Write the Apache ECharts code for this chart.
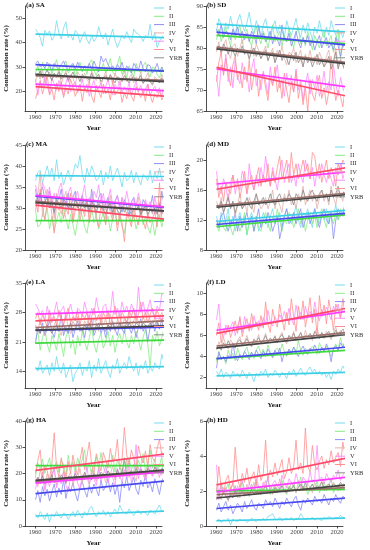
<!DOCTYPE html>
<html><head><meta charset="utf-8">
<script src="https://cdn.jsdelivr.net/npm/echarts@6/dist/echarts.min.js"></script>
<style>html,body{margin:0;padding:0;background:#fff}#c{width:370px;height:550px}</style>
</head><body><div id="c"></div><script>
// ---------- data ----------
const firstYear = 1961, lastYear = 2017;
const years = [];
for (let y = firstYear; y <= lastYear; y++) years.push(y);
const seriesNames = ['I','II','III','IV','V','VI','YRB'];
const xTicks = [1960,1970,1980,1990,2000,2010,2020];

// (a) SA
const saI=[45.5,44.2,42.1,38.5,45.0,43.2,44.8,41.0,42.5,49.0,44.0,41.5,46.0,48.5,42.0,43.5,41.0,45.0,43.8,40.0,42.5,44.5,41.2,39.5,43.0,40.5,42.0,46.5,43.0,41.5,44.0,39.0,42.5,45.5,41.0,38.0,40.5,43.0,41.5,44.5,42.0,40.0,45.5,44.0,43.5,42.5,40.5,43.0,42.0,47.5,41.0,44.0,38.0,40.5,42.0,43.5,41.5];
const saII=[27.5,30.5,26.0,32.0,29.5,28.0,31.5,27.0,30.0,33.0,28.5,26.5,30.5,32.5,27.5,29.0,31.0,26.0,29.5,32.0,28.0,30.5,27.0,31.5,33.0,28.5,26.5,30.0,29.0,31.5,27.5,30.0,33.5,28.0,26.5,31.0,34.5,27.0,29.5,25.5,30.5,28.0,26.0,31.5,29.0,27.5,30.5,32.0,28.0,26.0,30.0,29.5,27.0,25.5,29.0,31.0,30.0];
const saIII=[31.5,32.5,30.0,31.0,29.5,32.0,30.5,28.5,31.5,30.0,29.0,31.0,32.5,30.0,28.5,30.5,31.5,29.0,32.0,30.0,28.5,30.5,29.5,31.5,29.0,32.5,30.0,28.0,34.5,32.0,33.5,31.0,29.5,30.5,28.5,31.0,29.5,32.0,28.0,30.5,29.0,27.5,31.5,30.0,28.5,32.5,29.5,28.0,31.0,30.5,27.5,29.0,31.5,28.0,30.0,27.0,28.5];
const saIV=[24.0,27.5,25.0,29.0,23.5,26.5,28.0,24.5,27.0,25.5,29.5,23.0,26.0,28.5,24.0,27.0,25.5,22.5,28.0,26.5,24.0,27.5,25.0,23.5,28.5,26.0,24.5,27.0,22.5,25.5,28.0,24.0,26.5,23.0,27.5,25.0,22.5,26.0,28.5,24.0,25.5,27.0,23.5,26.0,24.5,28.0,23.0,25.5,27.5,24.0,22.5,26.0,25.0,23.5,27.0,24.0,25.0];
const saV=[25.0,18.5,24.0,21.5,26.0,22.5,19.0,25.5,23.0,20.5,24.5,21.0,18.5,23.5,26.5,20.0,22.5,24.0,19.5,21.5,25.0,20.5,23.0,18.0,22.0,24.5,20.0,21.5,23.5,19.0,22.0,25.0,20.5,18.5,23.0,21.0,24.5,19.5,22.0,20.0,23.5,18.5,21.5,24.0,20.0,22.5,19.0,21.0,23.0,18.5,20.5,22.0,19.5,21.5,18.0,22.5,20.5];
const saVI=[17.0,20.5,24.5,19.0,22.5,26.5,18.5,21.0,16.5,23.5,20.0,24.0,17.5,21.5,19.0,25.0,22.0,18.0,20.5,23.0,16.0,21.5,19.5,24.0,18.0,15.5,22.5,20.0,17.5,23.0,19.0,21.0,16.5,24.5,18.5,20.0,22.0,15.5,19.5,17.0,21.5,18.0,16.0,22.0,19.5,17.5,20.5,16.0,23.0,18.5,15.5,19.0,17.5,20.5,16.5,18.5,17.0];
const saYRB=[27.5,26.0,28.5,25.5,27.0,29.0,26.5,24.5,27.5,26.0,28.0,25.0,26.5,27.5,24.5,26.0,28.0,25.5,26.5,24.0,27.0,25.5,26.0,24.5,27.5,25.0,26.0,27.0,24.0,25.5,26.5,24.5,27.0,25.0,23.5,26.0,25.5,24.0,26.5,25.0,23.5,25.5,26.0,24.0,25.0,26.5,23.5,24.5,25.5,24.0,23.0,25.0,24.5,23.5,25.5,24.0,24.5];
const saTrend=[[43.5,42.0],[29.0,28.5],[31.0,28.3],[26.5,24.5],[23.0,20.3],[22.0,18.0],[27.0,24.0]];
const saTicks=[20,30,40,50];

// (b) SD
const sdI=[84.0,87.0,85.5,83.5,86.0,84.5,87.5,85.0,83.0,86.5,88.0,85.5,84.0,86.0,88.5,85.0,83.5,86.5,84.5,82.5,85.5,87.0,84.0,82.0,85.0,86.5,83.5,85.5,84.0,82.5,86.5,84.5,83.0,85.0,87.0,84.0,82.5,85.5,83.5,86.0,84.0,82.0,85.0,83.5,86.5,84.0,82.5,85.0,83.0,86.5,84.5,83.0,81.5,84.0,82.5,84.5,83.0];
const sdII=[82.0,84.5,81.5,83.5,85.0,82.5,80.5,84.0,82.0,83.5,85.5,81.0,83.0,84.5,82.0,80.5,83.5,85.0,82.5,81.0,84.0,82.5,80.0,83.0,85.5,81.5,82.5,84.0,80.5,83.0,81.5,84.5,82.0,80.0,83.5,85.0,81.0,82.5,80.5,84.0,82.0,79.5,83.0,81.5,80.0,82.5,84.0,80.5,81.5,83.0,79.0,82.0,84.5,77.5,81.0,80.0,82.5];
const sdIII=[84.5,83.0,85.5,82.5,84.0,83.5,82.0,84.5,83.0,85.0,82.5,84.0,82.0,83.5,81.5,84.0,83.0,81.0,85.5,82.5,83.5,81.5,82.5,84.0,81.0,83.0,82.0,80.5,85.5,82.0,81.5,83.5,80.5,82.0,84.0,81.5,80.0,82.5,81.0,83.0,80.5,82.0,79.5,81.5,83.0,80.0,81.5,82.5,80.0,81.0,79.5,82.5,80.5,78.0,81.0,79.5,80.5];
const sdIV=[79.0,81.5,78.5,80.5,82.0,79.0,77.5,80.5,81.0,78.0,80.0,82.0,78.5,79.5,77.0,80.5,78.0,81.0,79.5,77.5,79.0,80.5,77.0,78.5,80.0,76.5,79.5,78.0,80.5,77.5,76.0,79.0,78.5,80.0,76.5,78.0,79.5,75.5,78.5,77.0,79.5,76.5,78.0,76.0,79.0,77.5,75.5,78.0,79.5,76.0,77.0,80.0,75.5,77.5,76.0,74.5,76.5];
const sdV=[73.5,68.5,76.0,74.0,78.5,72.0,75.5,70.5,77.0,73.0,71.5,76.5,72.5,74.0,69.5,75.0,77.5,71.0,73.5,70.0,74.5,72.0,69.0,75.5,71.5,73.0,76.0,70.5,72.5,68.5,74.0,71.0,73.5,69.5,75.0,70.0,72.5,67.5,71.5,74.0,69.0,72.5,70.5,73.5,68.5,71.0,74.5,69.5,72.0,70.0,76.0,71.5,68.5,73.0,70.5,69.0,71.5];
const sdVI=[72.0,76.5,79.0,73.5,77.5,74.0,71.0,76.0,78.0,72.5,74.5,70.5,75.5,72.0,77.0,70.0,73.5,75.0,68.5,72.5,74.0,70.5,67.5,73.0,71.0,75.5,69.5,72.5,68.0,74.0,70.0,67.0,72.0,69.5,74.5,68.0,71.5,66.5,70.5,65.0,72.5,69.0,67.5,71.0,73.5,68.0,70.5,66.5,69.5,78.0,71.5,67.5,70.0,68.5,66.0,70.5,67.5];
const sdYRB=[79.5,80.5,79.0,81.0,80.0,78.5,80.5,79.5,78.0,80.0,79.0,80.5,78.5,79.5,77.5,79.0,80.0,78.0,79.0,77.5,78.5,79.5,77.0,78.5,79.0,76.5,78.0,79.5,77.0,78.5,77.5,76.0,78.5,77.0,79.0,76.5,77.5,75.5,78.0,76.5,77.5,75.5,77.0,78.5,76.0,77.0,75.5,76.5,78.0,75.0,76.5,79.0,75.0,77.0,76.0,74.5,76.0];
const sdTrend=[[85.7,83.8],[83.0,81.0],[83.8,80.7],[80.2,76.5],[75.0,70.7],[75.4,68.5],[79.8,76.2]];
const sdTicks=[65,70,75,80,85,90];

// (c) MA
const maI=[36.5,38.5,39.0,36.0,38.0,40.0,37.5,39.5,36.5,41.5,37.0,38.5,35.5,37.5,39.0,36.5,38.0,40.5,39.5,42.5,38.0,36.0,39.5,37.5,40.0,38.5,36.5,37.0,39.0,35.5,38.5,37.0,40.0,36.5,38.0,39.5,37.5,35.0,38.5,36.5,37.0,39.0,36.0,38.5,37.0,35.5,38.0,37.5,36.5,39.0,36.0,38.5,37.0,39.5,36.5,37.5,38.5];
const maII=[29.5,25.5,26.0,28.5,27.5,30.0,25.0,28.0,24.5,27.0,29.0,26.5,30.5,27.5,25.0,28.5,26.0,23.5,27.0,29.5,28.0,25.5,24.0,27.5,30.0,26.5,28.5,25.0,27.0,29.0,26.5,28.0,24.5,27.5,29.5,26.0,28.0,25.5,24.0,27.5,29.0,26.5,28.5,25.0,27.0,29.5,26.0,28.0,25.5,24.0,27.0,23.5,26.5,28.5,25.5,27.5,26.0];
const maIII=[34.5,31.0,33.5,35.0,32.0,30.5,34.0,31.5,28.5,33.0,32.0,34.5,30.5,31.5,33.5,29.5,32.5,34.0,30.0,31.5,33.0,30.5,32.0,29.0,34.5,31.0,30.0,32.5,33.5,29.5,31.0,32.5,30.0,28.5,31.5,33.0,30.5,29.0,32.0,30.5,28.0,31.5,32.5,29.5,30.5,28.5,32.0,31.0,29.5,30.0,33.0,28.5,30.5,29.0,34.0,30.5,31.0];
const maIV=[29.5,33.0,38.5,28.0,31.5,34.5,30.0,32.5,27.5,33.5,30.5,28.5,32.0,34.0,29.5,31.0,27.0,33.0,30.5,28.5,32.5,29.0,31.5,27.5,33.5,30.0,28.5,32.0,29.5,31.5,27.5,30.5,33.0,28.0,31.0,29.5,27.0,32.5,30.0,28.5,31.0,29.5,27.5,30.5,32.5,28.0,29.5,31.5,27.5,30.0,28.5,31.0,29.0,27.5,30.5,29.0,28.5];
const maV=[35.5,33.0,31.5,36.0,34.5,32.0,35.0,30.5,33.5,31.0,34.5,36.0,32.5,30.0,33.5,35.0,31.5,32.5,34.0,30.5,33.0,35.5,31.0,32.5,30.0,34.0,32.5,35.5,31.0,33.5,29.5,32.0,34.5,30.5,31.5,33.0,29.5,32.5,30.5,34.0,31.0,29.0,32.5,30.5,33.5,31.0,29.5,32.0,30.0,31.5,29.0,32.5,30.0,31.5,28.5,30.5,31.0];
const maVI=[32.0,29.0,34.5,30.5,27.0,31.5,33.0,28.5,24.0,31.0,29.5,32.5,27.5,30.0,28.5,33.5,26.5,29.5,31.5,27.0,30.0,28.0,32.0,26.5,29.5,31.0,27.5,25.5,30.5,28.5,26.0,31.0,29.0,27.0,30.0,24.5,28.5,26.5,22.0,29.0,27.5,25.5,30.0,28.0,26.0,29.5,27.0,25.0,28.5,26.5,27.5,29.0,25.5,36.0,27.5,26.0,27.0];
const maYRB=[31.0,32.5,33.5,30.5,31.5,32.5,30.0,31.5,29.0,32.0,31.0,30.0,32.0,31.5,30.0,31.0,29.5,32.0,30.5,29.5,31.5,30.0,31.0,29.0,31.5,30.5,29.0,31.0,30.5,29.5,28.5,30.5,31.0,29.0,30.5,29.5,28.5,30.5,29.0,30.0,29.5,28.5,30.0,29.5,30.5,28.5,29.5,30.5,28.5,29.5,29.0,30.0,28.5,31.0,29.0,28.5,29.5];
const maTrend=[[37.7,37.5],[27.0,27.0],[32.8,30.1],[31.6,29.2],[33.0,30.2],[30.7,27.3],[31.3,29.3]];
const maTicks=[20,25,30,35,40,45];

// (d) MD
const mdI=[12.5,11.0,13.0,11.5,12.0,13.5,11.0,12.5,10.5,12.0,13.0,11.5,12.5,10.0,12.0,13.0,11.5,12.5,10.5,11.5,13.0,12.0,11.0,12.5,13.5,11.5,12.0,13.0,11.0,12.5,13.5,12.0,11.5,12.5,14.0,12.0,11.0,13.0,12.5,13.5,12.0,11.0,13.5,12.5,11.5,13.0,12.0,13.5,11.5,13.0,12.5,14.0,12.0,13.0,12.5,14.5,13.0];
const mdII=[11.5,10.5,12.0,11.0,10.5,12.5,11.0,10.0,11.5,12.0,10.5,11.5,13.0,10.0,11.5,12.0,10.5,12.5,11.0,10.5,12.0,13.0,11.5,10.5,12.5,11.5,13.5,12.0,10.5,12.0,11.5,13.0,12.5,11.0,12.0,13.5,11.5,12.5,10.5,12.0,13.0,11.5,12.5,11.0,12.5,13.5,12.0,11.0,13.0,12.5,11.5,13.0,12.0,13.5,12.5,14.0,12.5];
const mdIII=[12.0,11.0,12.5,13.0,11.5,10.5,12.0,11.5,13.0,10.5,12.5,11.0,12.0,13.0,11.5,12.5,10.5,12.0,13.5,11.0,12.0,11.5,13.0,12.0,10.5,11.5,12.5,9.5,11.0,12.5,13.5,11.5,12.0,13.0,11.5,12.5,13.5,11.0,12.0,13.0,11.5,12.5,13.5,12.0,11.0,12.5,13.5,12.0,11.5,13.0,9.5,12.0,13.5,12.5,13.0,14.0,13.0];
const mdIV=[14.5,13.5,15.0,13.0,14.0,15.5,13.5,14.5,12.5,14.0,15.5,13.5,14.5,13.0,15.0,14.0,13.0,15.5,14.5,13.5,14.0,15.0,13.5,14.5,16.0,13.5,15.0,14.0,13.0,15.5,14.5,16.0,14.0,15.0,13.5,15.5,14.5,16.5,14.0,15.0,16.0,14.5,15.5,13.5,15.0,16.0,14.5,15.5,14.0,16.5,15.0,14.0,16.0,15.5,14.5,16.5,15.5];
const mdV=[18.5,16.0,15.5,17.5,16.5,14.5,17.0,18.0,15.5,17.0,16.0,18.5,17.5,15.5,19.5,17.0,16.0,18.0,16.5,19.0,17.5,20.5,18.0,16.5,19.0,17.5,16.0,18.5,20.0,17.0,18.5,19.5,17.0,18.0,16.5,19.5,18.0,17.0,20.0,18.5,17.5,19.0,16.5,18.5,17.5,19.5,18.0,17.0,18.5,17.5,16.5,19.0,18.0,19.5,17.5,18.5,18.0];
const mdVI=[17.5,15.0,16.5,14.5,17.0,16.0,15.5,18.0,16.5,17.5,15.0,16.5,18.5,15.5,17.0,18.0,16.0,17.5,19.0,16.5,18.0,17.0,19.5,16.5,18.5,17.0,19.0,20.5,17.5,18.5,20.0,17.0,21.0,18.0,19.5,17.5,18.5,20.0,18.5,19.5,17.5,21.0,20.5,18.0,19.5,17.0,18.5,20.0,17.5,19.0,18.0,16.5,19.5,18.5,20.0,19.5,18.5];
const mdYRB=[14.0,13.5,14.5,13.0,14.0,15.0,13.5,14.5,13.0,14.0,14.5,13.5,14.0,15.0,14.0,13.5,14.5,15.5,14.0,14.5,15.0,14.0,14.5,15.5,14.5,14.0,15.0,15.5,14.5,15.0,14.5,15.5,15.0,14.0,15.5,15.0,14.5,16.0,15.0,14.5,15.5,16.0,15.0,14.5,15.5,16.0,15.0,15.5,14.5,16.0,15.0,15.5,16.5,15.0,15.5,16.0,15.5];
const mdTrend=[[11.8,13.3],[11.1,12.7],[11.4,12.9],[13.9,15.6],[16.8,18.4],[16.1,19.0],[13.7,15.4]];
const mdTicks=[8,12,16,20];

// (e) LA
const laI=[15.0,14.0,16.5,13.5,14.5,15.5,13.0,16.0,14.0,17.5,14.5,13.5,16.0,12.5,14.0,15.5,11.5,13.5,14.5,16.0,13.0,15.0,14.0,16.5,12.5,15.5,14.0,17.0,13.5,15.0,16.5,14.0,12.5,15.5,14.5,17.0,13.5,15.0,16.0,14.5,17.5,15.5,14.0,16.0,13.0,15.5,14.5,16.5,13.5,15.0,14.0,16.0,15.0,14.5,18.0,16.0,13.0];
const laII=[21.5,23.5,19.0,22.0,24.0,20.5,18.5,22.5,21.0,19.0,23.0,20.5,17.5,22.0,24.0,19.5,21.5,18.0,22.5,20.0,23.5,21.0,19.0,22.0,24.5,20.5,18.5,21.5,23.0,19.5,21.0,23.5,20.0,22.5,18.5,21.5,23.0,20.5,24.0,21.0,19.5,22.5,20.5,23.5,21.5,19.0,22.0,24.0,20.5,15.0,22.5,21.0,23.5,20.0,22.0,24.5,22.0];
const laIII=[20.5,24.5,23.0,25.5,22.5,24.0,26.0,23.5,22.0,25.0,23.5,27.5,22.5,24.5,23.0,25.5,22.0,24.0,26.0,23.5,24.5,22.0,25.0,23.5,26.5,22.5,24.0,25.5,23.0,24.5,22.0,25.0,23.5,26.0,24.0,22.5,25.5,24.0,23.0,26.0,24.5,23.0,25.0,22.0,24.5,26.5,23.5,25.0,21.0,24.5,26.0,23.5,25.5,24.0,26.5,24.0,25.0];
const laIV=[25.0,23.0,26.5,24.0,22.5,25.5,27.0,23.5,25.0,26.5,24.0,22.5,25.5,27.5,24.5,23.0,26.0,24.5,27.0,25.0,23.5,26.0,25.0,27.5,24.0,26.5,25.5,23.5,27.0,25.0,26.5,24.0,27.5,25.5,23.5,26.0,28.0,24.5,26.5,25.0,27.5,24.5,26.0,28.0,25.5,24.0,27.0,25.5,28.5,26.0,24.5,27.0,25.5,26.5,28.0,25.5,26.5];
const laV=[30.0,29.0,27.5,28.5,26.0,29.5,27.0,25.5,28.0,30.5,27.0,28.5,29.5,26.5,28.0,30.0,27.5,26.0,29.0,28.5,27.0,30.5,28.0,26.5,29.0,27.5,31.5,28.5,27.0,29.5,30.0,26.5,28.0,33.0,27.5,29.0,27.0,30.5,28.0,29.5,27.5,30.0,28.5,26.5,34.0,28.0,30.5,27.5,29.0,31.0,28.0,27.0,29.5,28.5,32.5,32.0,29.0];
const laVI=[26.5,28.0,25.0,27.5,26.0,24.5,28.5,26.0,27.0,25.0,28.5,26.5,25.0,27.5,29.0,25.5,27.0,26.0,28.5,25.0,27.5,26.5,28.0,24.5,27.0,29.0,26.0,27.5,25.5,28.0,26.5,28.5,25.0,27.0,29.5,26.5,25.0,28.0,27.0,25.5,28.5,27.0,29.0,26.0,27.5,30.5,26.5,28.0,25.5,27.5,29.0,26.5,28.5,27.0,25.5,28.0,27.5];
const laYRB=[24.0,24.5,23.0,24.5,23.5,25.0,24.0,23.0,24.5,25.0,23.5,24.5,25.0,23.5,24.0,25.5,23.5,24.0,25.0,24.5,23.5,25.0,24.0,25.5,24.0,23.5,25.0,24.5,25.5,24.0,23.5,25.0,24.5,25.5,24.0,24.5,25.5,24.0,25.0,24.5,25.5,24.5,24.0,25.5,25.0,24.0,25.5,25.0,24.5,25.5,24.5,25.0,26.0,24.5,25.0,25.5,24.5];
const laTrend=[[14.6,15.1],[20.7,21.4],[23.7,24.5],[24.4,26.0],[27.6,28.6],[26.0,27.2],[23.8,24.8]];
const laTicks=[14,21,28,35];

// (f) LD
const ldI=[2.6,2.2,2.8,2.0,2.5,2.3,1.9,2.6,2.2,2.4,2.0,2.7,2.3,1.9,2.5,2.2,1.6,2.4,2.1,2.6,2.3,2.8,2.0,2.4,2.2,2.7,2.4,2.0,2.5,2.3,1.9,2.6,2.3,2.8,2.1,2.5,2.9,2.4,2.2,2.7,3.0,2.5,2.8,2.3,2.6,2.2,2.5,2.0,2.4,1.8,2.6,2.3,2.8,2.5,3.1,2.7,2.3];
const ldII=[3.5,4.5,3.8,4.0,3.3,4.6,3.9,4.3,3.6,4.8,4.1,3.7,4.5,4.9,4.0,4.4,3.8,4.6,5.0,4.2,4.7,4.0,5.1,4.4,3.9,4.6,4.8,4.3,5.2,4.5,4.0,4.7,4.4,4.9,4.2,5.5,4.6,4.1,4.8,4.3,4.5,5.0,4.7,4.2,5.3,4.8,4.4,5.0,4.5,4.0,4.7,5.2,4.6,5.8,4.9,5.1,4.7];
const ldIII=[2.9,4.4,3.7,4.0,3.5,4.1,3.8,5.3,4.0,3.6,4.2,3.9,4.5,4.1,3.7,4.4,4.0,4.6,4.2,3.8,4.5,4.1,4.7,4.3,3.9,4.6,4.2,4.8,3.5,4.4,4.1,4.7,4.3,4.9,4.5,4.0,4.6,5.0,4.4,4.2,4.8,4.5,5.1,4.6,4.3,4.9,4.5,5.2,4.7,3.5,4.8,5.0,4.6,5.3,4.9,5.5,5.0];
const ldIV=[4.6,5.4,4.9,5.8,5.1,4.7,5.6,5.2,4.8,5.5,5.9,5.0,5.4,6.0,5.3,4.9,5.7,5.4,6.1,5.2,5.6,6.2,5.3,5.8,5.5,6.0,5.4,5.9,6.3,5.6,5.2,6.0,5.7,6.4,5.5,5.9,6.2,5.6,6.5,5.8,6.1,5.5,6.3,6.7,5.9,6.2,5.7,6.4,6.0,5.6,6.3,6.8,6.0,6.5,6.2,6.9,6.4];
const ldV=[7.5,9.0,6.2,5.8,7.0,6.4,6.8,7.3,6.0,6.9,7.6,6.3,7.8,6.7,7.2,6.5,7.9,6.9,7.4,6.8,7.7,7.1,8.4,7.3,6.9,7.8,7.2,8.0,7.5,8.3,7.4,8.6,7.6,7.0,8.9,7.7,8.2,7.5,8.8,7.9,8.3,7.6,9.2,8.0,7.4,8.5,7.9,8.7,8.1,7.5,8.8,8.2,9.0,7.8,8.5,10.0,8.6];
const ldVI=[6.0,7.2,5.3,6.6,6.1,7.0,5.8,6.5,7.4,6.2,7.8,5.9,6.9,7.6,6.4,8.1,6.8,7.3,6.5,7.9,6.7,9.2,7.1,6.3,8.5,7.4,6.8,9.0,7.6,6.5,8.2,7.0,9.5,7.8,6.4,8.8,7.5,9.3,6.8,8.0,9.6,7.2,8.5,6.0,9.8,7.8,8.9,7.1,9.4,8.2,6.5,9.0,8.4,7.6,9.5,8.7,8.0];
const ldYRB=[4.7,5.1,4.6,5.3,4.9,5.5,5.0,5.2,4.8,5.4,5.6,5.1,5.3,5.7,5.2,5.0,5.6,5.4,5.8,5.3,5.5,6.0,5.4,5.7,5.5,5.9,5.3,5.8,6.1,5.6,5.4,6.0,5.7,6.2,5.6,5.8,6.3,5.7,6.0,5.9,6.2,5.8,6.4,6.0,5.7,6.3,5.9,6.1,6.4,5.8,6.1,6.5,6.0,6.3,6.6,6.4,6.1];
const ldTrend=[[2.15,2.5],[3.8,4.6],[3.8,4.9],[5.0,6.3],[6.5,8.3],[6.2,8.6],[4.8,6.1]];
const ldTicks=[2,4,6,8,10];

// (g) HA
const haI=[4.5,3.0,5.5,4.0,2.5,5.0,1.5,4.5,3.5,5.5,4.0,3.0,5.0,4.5,2.5,4.0,5.5,3.5,6.0,4.5,3.0,5.5,4.0,6.5,7.5,5.0,3.5,5.5,4.5,6.0,4.0,5.5,3.5,5.0,6.5,4.5,8.0,6.0,5.0,4.5,6.5,5.0,4.0,5.5,6.0,4.5,5.5,5.0,4.0,6.0,5.5,4.5,6.5,8.0,5.5,6.0,5.0];
const haII=[19.0,24.0,21.5,25.5,20.0,23.0,26.0,19.5,22.5,24.5,20.5,25.0,23.5,19.0,27.0,22.0,24.5,20.5,26.0,22.5,25.5,29.0,21.0,24.0,19.5,23.5,26.5,21.5,28.0,22.5,20.0,24.5,22.0,27.0,20.5,25.0,23.0,19.0,24.5,22.0,26.0,21.5,23.5,20.0,25.0,22.5,27.5,21.0,24.0,29.0,22.0,25.5,20.5,23.0,26.5,16.0,23.0];
const haIII=[10.0,13.5,9.0,15.0,11.5,14.0,9.5,13.0,16.0,11.0,14.5,12.0,17.5,10.5,15.0,13.0,16.5,12.5,9.5,14.5,17.0,13.5,11.0,15.5,12.5,16.0,14.0,11.5,17.5,13.5,15.0,18.0,13.0,16.5,12.0,15.5,9.0,17.0,14.5,19.0,13.5,16.0,18.5,14.0,12.0,17.5,15.0,19.5,14.5,16.5,13.0,18.0,15.5,12.0,17.0,19.0,17.5];
const haIV=[19.0,15.0,21.5,17.5,14.0,20.0,16.5,18.5,22.0,15.5,19.5,17.0,21.0,16.0,18.5,20.5,15.5,19.0,17.5,22.0,16.5,20.0,18.5,15.5,21.5,19.0,17.0,22.5,18.0,20.0,16.5,21.0,19.5,23.0,17.5,20.5,18.0,22.0,19.0,25.5,18.5,21.5,20.0,17.0,22.5,19.5,21.0,18.0,23.0,20.5,19.0,22.5,20.0,21.5,19.5,23.0,21.0];
const haV=[14.0,18.5,16.0,20.5,13.5,17.5,15.0,19.5,22.0,14.5,18.0,16.0,20.5,15.5,13.0,19.0,17.0,21.0,16.5,14.0,19.5,17.5,22.5,16.0,20.0,18.0,15.5,21.5,17.0,19.5,23.0,16.5,20.0,18.5,15.5,22.0,19.0,17.0,21.5,18.5,24.0,16.5,20.5,31.0,18.0,22.5,19.5,17.5,21.0,23.5,19.0,20.5,22.5,18.5,21.5,19.5,20.0];
const haVI=[20.0,25.0,29.0,18.5,23.0,21.0,17.5,24.0,35.5,22.0,19.0,26.0,21.5,18.0,24.5,20.0,27.0,22.5,19.5,25.0,30.0,21.5,26.5,32.0,23.5,20.0,27.5,24.0,21.0,28.0,25.0,22.0,29.5,24.5,26.0,33.0,21.5,25.5,37.5,27.0,23.5,29.0,25.5,22.0,30.5,26.5,24.0,28.5,22.5,31.0,26.0,24.5,29.5,33.0,27.0,29.0,28.0];
const haYRB=[16.5,18.5,17.0,19.0,16.0,18.0,17.5,19.5,16.5,18.0,17.0,19.5,18.0,16.5,19.0,18.5,17.5,20.0,18.0,19.0,17.5,20.5,18.5,19.5,17.5,20.0,19.0,18.0,20.5,19.5,18.5,21.0,19.5,20.0,18.5,21.5,19.0,20.5,26.0,19.5,20.5,21.0,19.5,22.0,20.0,21.5,20.5,19.5,22.0,21.0,20.0,22.5,21.0,20.5,22.0,21.5,21.5];
const haTrend=[[3.8,5.7],[23.0,23.0],[12.3,17.2],[17.0,21.0],[16.3,20.7],[21.2,27.5],[17.4,21.4]];
const haTicks=[0,10,20,30,40];

// (h) HD
const hdI=[0.3,0.4,0.2,0.35,0.3,0.45,0.05,0.4,0.3,0.25,0.4,0.3,0.35,0.2,0.3,0.45,0.35,0.25,0.4,0.3,0.45,0.3,0.55,0.6,0.7,0.4,0.35,0.5,0.3,0.4,0.45,0.35,0.5,0.3,0.45,0.4,0.7,0.5,0.35,0.45,0.4,0.5,0.35,0.45,0.4,0.3,0.5,0.4,0.55,0.45,0.4,0.5,0.45,0.6,0.5,0.4,0.5];
const hdII=[2.2,1.8,2.5,1.9,2.1,2.4,1.7,2.0,2.3,1.6,2.2,2.5,1.9,2.1,1.7,2.4,2.0,2.6,1.8,2.2,1.9,2.3,2.7,1.8,2.1,2.4,1.9,2.2,2.6,2.0,1.8,2.3,2.1,2.5,1.9,2.2,2.8,2.0,2.3,1.8,2.1,2.4,2.0,2.6,1.9,2.2,2.5,2.0,2.3,2.7,1.9,2.2,2.4,2.0,2.3,1.8,2.1];
const hdIII=[0.9,1.3,0.8,1.1,1.4,0.9,1.2,0.7,1.0,1.3,1.1,0.8,1.4,1.0,1.2,1.5,1.1,0.9,1.3,1.2,1.0,1.5,1.2,1.4,1.1,1.6,1.3,1.0,1.4,1.2,1.6,1.3,1.1,1.5,1.7,1.2,0.9,1.5,1.3,1.6,1.4,1.2,1.7,1.4,1.5,1.3,1.8,1.5,1.2,1.6,1.4,1.8,1.5,1.3,1.7,1.6,1.5];
const hdIV=[1.6,2.0,1.5,2.2,1.8,1.4,2.1,1.7,2.3,1.9,1.6,2.2,1.8,2.4,1.7,2.0,2.5,1.8,2.1,1.9,2.3,2.6,1.9,2.2,1.8,2.4,2.0,2.7,2.1,1.9,2.3,2.0,2.5,2.2,1.9,2.6,2.1,2.3,2.0,2.4,2.2,1.9,2.5,2.1,2.3,2.6,2.0,2.2,2.4,2.1,2.5,2.3,2.0,2.4,2.2,2.6,2.3];
const hdV=[3.5,1.5,2.4,1.8,2.2,1.6,2.0,2.5,1.7,2.3,1.9,2.6,2.1,1.8,2.4,2.2,2.0,2.7,2.3,1.9,2.5,2.2,2.8,2.0,2.4,2.6,2.3,2.1,2.9,2.4,2.2,2.7,2.5,2.3,3.0,2.5,2.2,2.8,2.6,2.4,3.1,2.5,2.7,4.6,2.6,2.8,2.4,3.0,2.7,2.5,2.9,2.7,3.2,2.6,2.9,3.1,2.8];
const hdVI=[2.0,3.4,2.2,1.8,2.6,2.9,2.1,2.4,4.5,2.7,2.2,3.0,2.5,3.3,2.4,2.8,3.1,2.3,3.5,2.6,3.0,4.9,2.7,3.2,2.8,3.6,2.9,3.3,3.8,2.7,3.1,3.9,3.0,3.4,4.9,3.2,3.6,3.0,5.6,3.4,3.1,4.6,3.5,3.2,3.7,4.0,3.3,3.8,3.5,4.3,3.6,3.9,4.2,3.4,4.8,4.0,3.8];
const hdYRB=[1.5,1.8,1.6,1.9,1.7,1.5,1.8,1.6,2.0,1.7,1.8,2.0,1.7,1.9,1.8,2.1,1.8,2.0,1.9,1.8,2.1,2.3,1.9,2.0,1.9,2.2,2.0,2.1,2.3,2.0,1.9,2.2,2.1,2.3,2.0,2.2,2.4,2.1,2.5,2.1,2.2,2.4,2.1,2.3,2.2,2.5,2.2,2.3,2.4,2.2,2.4,2.3,2.2,2.5,2.3,2.4,2.4];
const hdTrend=[[0.3,0.45],[2.0,2.1],[1.0,1.6],[1.8,2.2],[1.95,2.8],[2.35,3.9],[1.6,2.35]];
const hdTicks=[0,2,4,6];

const panelTitles=['(a) SA','(b) SD','(c) MA','(d) MD','(e) LA','(f) LD','(g) HA','(h) HD'];
const panelData=[
  [saI,saII,saIII,saIV,saV,saVI,saYRB],[sdI,sdII,sdIII,sdIV,sdV,sdVI,sdYRB],
  [maI,maII,maIII,maIV,maV,maVI,maYRB],[mdI,mdII,mdIII,mdIV,mdV,mdVI,mdYRB],
  [laI,laII,laIII,laIV,laV,laVI,laYRB],[ldI,ldII,ldIII,ldIV,ldV,ldVI,ldYRB],
  [haI,haII,haIII,haIV,haV,haVI,haYRB],[hdI,hdII,hdIII,hdIV,hdV,hdVI,hdYRB]];
const panelTrends=[saTrend,sdTrend,maTrend,mdTrend,laTrend,ldTrend,haTrend,hdTrend];
const panelTicks=[saTicks,sdTicks,maTicks,mdTicks,laTicks,ldTicks,haTicks,hdTicks];
const panelRange=[[12,55],[65,90],[20,45],[8,22],[10,35],[1,11],[0,40],[0,6]];

// ---------- style / layout ----------
const lightColors=['#74dcef','#86ec86','#8c8cf8','#e2b2aa','#ff8cff','#ff9090','#8c8c8c'];
const darkColors=['#3ccfe6','#3fd83f','#4848f0','#9e6e68','#ff3cff','#ff4a6a','#444444'];
const colLeft=[25,206], rowTop=[6,145,283,421], gW=137, gH=105;
// axis for the data lines (reference places 1961..2017 between x≈+10.5 and x≈+141.5 of the plot)
const dataXMin=1956.51, dataXMax=2015.08;
const FONT='"Liberation Serif","Times New Roman",serif';

const grid=[],xAxis=[],yAxis=[],series=[],legend=[],title=[];
for(let p=0;p<8;p++){
  const L=colLeft[p%2], T=rowTop[Math.floor(p/2)];
  grid.push({left:L,top:T,width:gW,height:gH,containLabel:false});
  xAxis.push({type:'value',gridIndex:p,min:1955,max:2023,name:'Year',nameLocation:'middle',nameGap:14,
    nameTextStyle:{fontFamily:FONT,fontWeight:'bold',fontSize:7,color:'#111'},
    axisLine:{lineStyle:{color:'#222',width:0.8}},
    axisTick:{show:true,inside:false,length:2.5,customValues:xTicks,lineStyle:{color:'#222',width:0.8}},
    axisLabel:{customValues:xTicks,fontFamily:FONT,fontSize:6.5,color:'#444',margin:3,formatter:v=>String(v)},
    splitLine:{show:false}});
  xAxis.push({type:'value',gridIndex:p,min:dataXMin,max:dataXMax,show:false,splitLine:{show:false}});
  const tk=panelTicks[p];
  yAxis.push({type:'value',gridIndex:p,min:panelRange[p][0],max:panelRange[p][1],
    name:'Contribution rate (%)',nameLocation:'middle',nameGap:15,
    nameTextStyle:{fontFamily:FONT,fontWeight:'bold',fontSize:7,color:'#111'},
    axisLine:{show:true,lineStyle:{color:'#222',width:0.8}},
    axisTick:{show:true,inside:false,length:2.5,customValues:tk,lineStyle:{color:'#222',width:0.8}},
    axisLabel:{customValues:tk,fontFamily:FONT,fontSize:6.5,color:'#444',margin:3},
    splitLine:{show:false}});
  const d=panelData[p], tr=panelTrends[p];
  for(let k=0;k<7;k++){
    series.push({type:'line',name:seriesNames[k],xAxisIndex:2*p+1,yAxisIndex:p,
      data:d[k].map((v,i)=>[years[i],v]),showSymbol:false,symbol:'none',clip:false,
      lineStyle:{width:0.8,color:lightColors[k]},itemStyle:{color:lightColors[k]},z:2,silent:true});
  }
  for(let k=0;k<7;k++){
    series.push({type:'line',name:seriesNames[k]+' trend',xAxisIndex:2*p+1,yAxisIndex:p,
      data:[[firstYear,tr[k][0]],[lastYear,tr[k][1]]],showSymbol:false,symbol:'none',clip:false,
      lineStyle:{width:1.7,color:darkColors[k]},itemStyle:{color:darkColors[k]},z:3,silent:true});
  }
  legend.push({data:seriesNames,orient:'vertical',left:L+129,top:T-2,icon:'rect',itemWidth:10,itemHeight:1,
    itemGap:0.3,padding:0,selectedMode:false,
    textStyle:{fontFamily:FONT,fontSize:6.5,color:'#333',lineHeight:8,padding:0}});
  title.push({text:panelTitles[p],left:L+1,top:T-4,padding:0,
    textStyle:{fontFamily:FONT,fontWeight:'bold',fontSize:7,color:'#111'}});
}
const chart=echarts.init(document.getElementById('c'),null,{renderer:'canvas'});
chart.setOption({animation:false,backgroundColor:'#fff',grid,xAxis,yAxis,series,legend,title});
</script></body></html>
